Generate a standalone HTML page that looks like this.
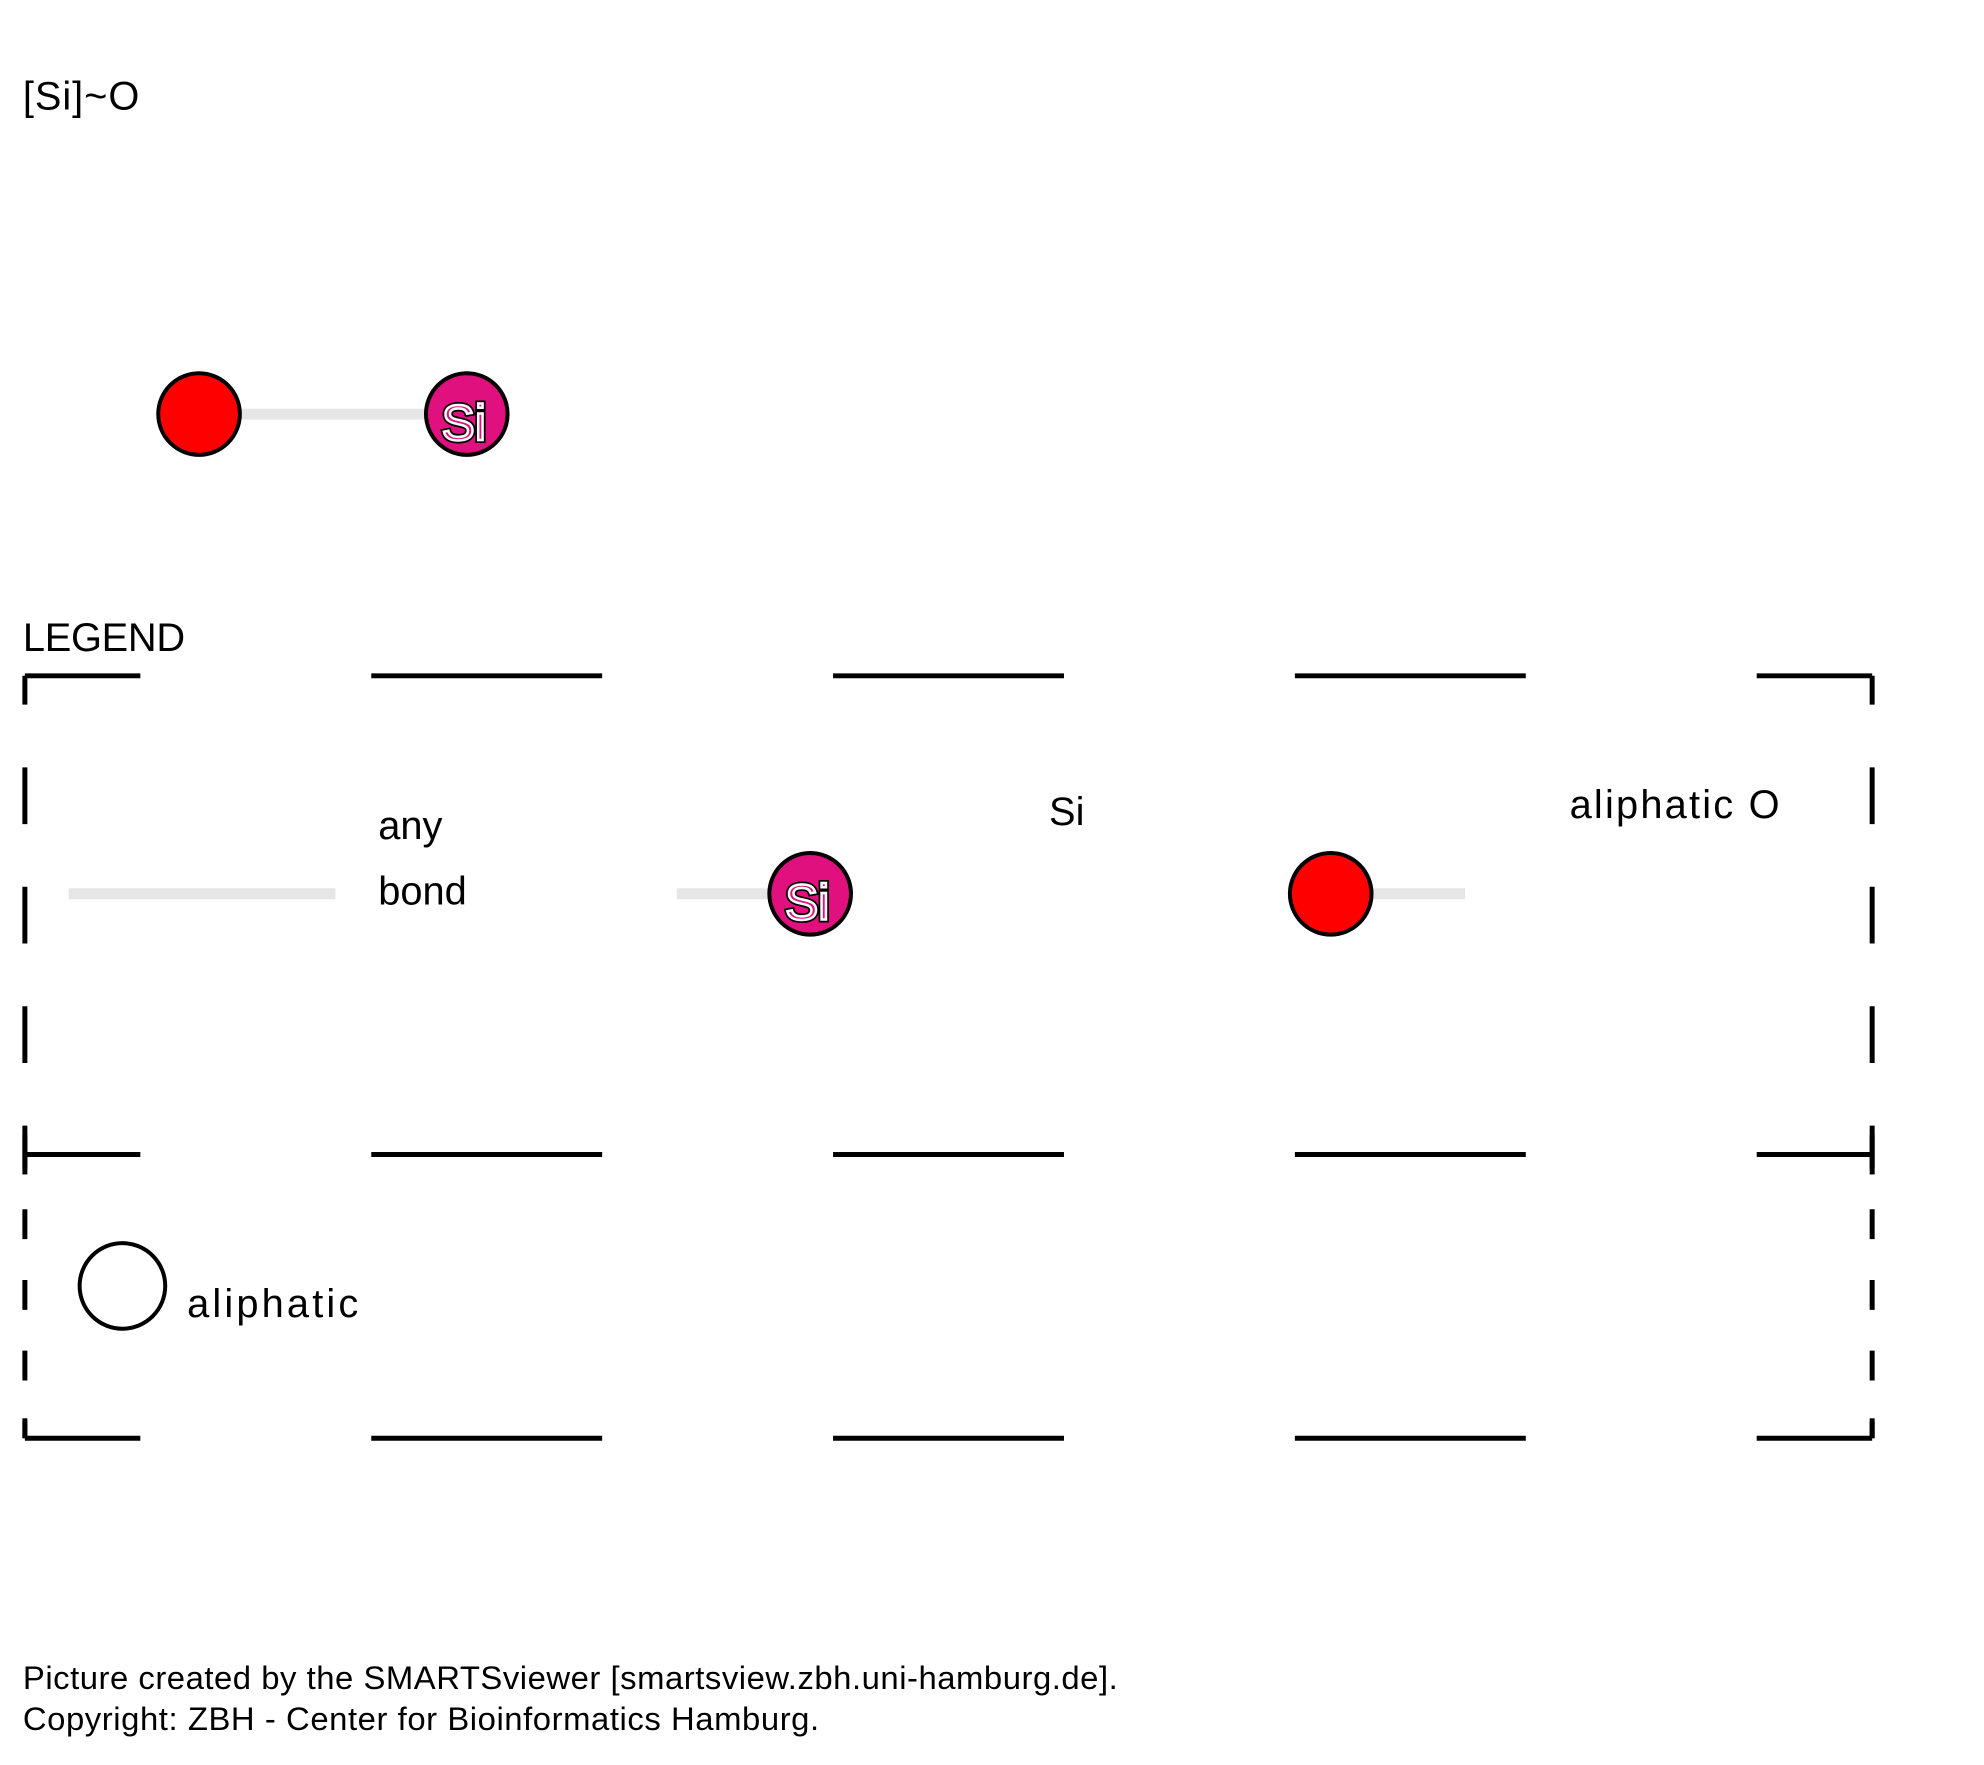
<!DOCTYPE html>
<html><head><meta charset="utf-8"><style>html,body{margin:0;padding:0;background:#fff}svg{display:block}</style></head>
<body>
<svg width="1984" height="1765" viewBox="0 0 1984 1765" font-family="'Liberation Sans', sans-serif">
<g transform="scale(0.9953)">
<text x="23" y="110" font-size="40" textLength="117">[Si]~O</text>
<g>
<line x1="200" y1="416" x2="469" y2="416" stroke="#e6e6e6" stroke-width="11"/>
<circle cx="200" cy="416" r="41" fill="#ff0000" stroke="#000" stroke-width="4"/>
<circle cx="469" cy="416" r="41" fill="#e0107f" stroke="#000" stroke-width="4"/>
<text x="466" y="442" font-size="50" text-anchor="middle" fill="none" stroke="#000" stroke-width="6">Si</text>
<text x="466" y="442" font-size="50" text-anchor="middle" fill="#e0107f" stroke="#fff" stroke-width="2.5">Si</text>
</g>
<text x="23" y="654" font-size="40" textLength="163">LEGEND</text>
<g stroke="#000" stroke-width="5" fill="none">
<line x1="25" y1="679" x2="1881" y2="679" stroke-dasharray="232 232" stroke-dashoffset="116"/>
<line x1="25" y1="1160" x2="1881" y2="1160" stroke-dasharray="232 232" stroke-dashoffset="116"/>
<line x1="25" y1="1445" x2="1881" y2="1445" stroke-dasharray="232 232" stroke-dashoffset="116"/>
<line x1="25" y1="679" x2="25" y2="1160" stroke-dasharray="57 63" stroke-dashoffset="28"/>
<line x1="1881" y1="679" x2="1881" y2="1160" stroke-dasharray="57 63" stroke-dashoffset="28"/>
<line x1="25" y1="1160" x2="25" y2="1445" stroke-dasharray="30 41" stroke-dashoffset="16"/>
<line x1="1881" y1="1160" x2="1881" y2="1445" stroke-dasharray="30 41" stroke-dashoffset="16"/>
<line x1="25" y1="1140" x2="25" y2="1180"/>
<line x1="1881" y1="1140" x2="1881" y2="1180"/>
<line x1="25" y1="1425" x2="25" y2="1445"/>
<line x1="1881" y1="1425" x2="1881" y2="1445"/>
</g>
<line x1="69" y1="898" x2="337" y2="898" stroke="#e6e6e6" stroke-width="11"/>
<text x="380" y="843" font-size="40">any</text>
<text x="380" y="909" font-size="40">bond</text>
<line x1="680" y1="898" x2="800" y2="898" stroke="#e6e6e6" stroke-width="11"/>
<circle cx="814" cy="898" r="41" fill="#e0107f" stroke="#000" stroke-width="4"/>
<text x="811" y="924" font-size="50" text-anchor="middle" fill="none" stroke="#000" stroke-width="6">Si</text>
<text x="811" y="924" font-size="50" text-anchor="middle" fill="#e0107f" stroke="#fff" stroke-width="2.5">Si</text>
<text x="1054" y="829" font-size="40">Si</text>
<line x1="1350" y1="898" x2="1472" y2="898" stroke="#e6e6e6" stroke-width="11"/>
<circle cx="1337" cy="898" r="41" fill="#ff0000" stroke="#000" stroke-width="4"/>
<text x="1577" y="822" font-size="40" textLength="211">aliphatic O</text>
<circle cx="123" cy="1292" r="43" fill="#fff" stroke="#000" stroke-width="4"/>
<text x="188" y="1323" font-size="40" textLength="172">aliphatic</text>
<text x="23" y="1697" font-size="33" textLength="1100">Picture created by the SMARTSviewer [smartsview.zbh.uni-hamburg.de].</text>
<text x="23" y="1738" font-size="33" textLength="800">Copyright: ZBH - Center for Bioinformatics Hamburg.</text>
</g>
</svg>
</body></html>
